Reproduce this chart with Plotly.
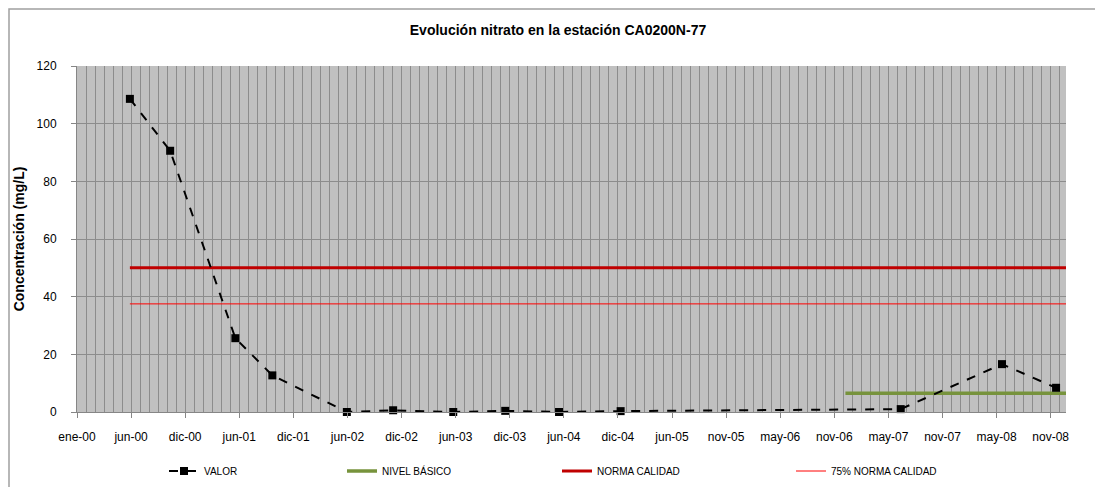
import pandas as pd
import plotly.graph_objects as go

# ---- data ----
fechas = ['2000-06-25', '2000-11-06', '2001-06-11', '2001-10-12', '2002-06-17',
          '2002-11-18', '2003-06-06', '2003-11-26', '2004-05-23', '2004-12-14',
          '2007-07-04', '2008-06-05', '2008-12-02']
valor = [108.6, 90.6, 25.6, 12.7, 0.0, 0.6, 0.0, 0.4, 0.0, 0.3, 1.0, 16.6, 8.4]

nivel_fechas = ['2007-01-01', '2009-01-04']
nivel_valor = [6.5, 6.5]

norma_fechas = ['2000-06-25', '2009-01-04']
norma_valor = [50, 50]

norma75_fechas = ['2000-06-25', '2009-01-04']
norma75_valor = [37.5, 37.5]

tick_labels = ['ene-00', 'jun-00', 'dic-00', 'jun-01', 'dic-01', 'jun-02', 'dic-02',
               'jun-03', 'dic-03', 'jun-04', 'dic-04', 'jun-05', 'nov-05', 'may-06',
               'nov-06', 'may-07', 'nov-07', 'may-08', 'nov-08']

axis_start = pd.Timestamp('2000-01-01')
tick_vals = [axis_start + pd.Timedelta(days=180 * i) for i in range(len(tick_labels))]

FONT = 'Liberation Sans, Arial, sans-serif'
OFF = 8                      # page body margin
W, H = 1103 - OFF, 487 - OFF
# plot-area edges in page pixels
PL, PR, PT, PB = 77, 1066, 66, 412
L, R, T, B = PL - OFF, PR - OFF, PT - OFF, PB - OFF

fig = go.Figure()
fig.add_trace(go.Scatter(x=nivel_fechas, y=nivel_valor, name='NIVEL BÁSICO', mode='lines',
                         line=dict(color='#77933C', width=3.5), legend='legend2'))
fig.add_trace(go.Scatter(x=norma_fechas, y=norma_valor, name='NORMA CALIDAD', mode='lines',
                         line=dict(color='#C00000', width=3), legend='legend3'))
fig.add_trace(go.Scatter(x=norma75_fechas, y=norma75_valor, name='75% NORMA CALIDAD', mode='lines',
                         line=dict(color='#FF0000', width=1), legend='legend4'))
fig.add_trace(go.Scatter(x=fechas, y=valor, name='VALOR', mode='lines+markers',
                         line=dict(color='black', width=2, dash='dash'),
                         marker=dict(symbol='square', size=8, color='black'),
                         cliponaxis=False, legend='legend'))

def leg(page_px):
    return dict(x=(page_px - OFF) / W, xref='container', xanchor='left',
                y=1 - (471 - OFF) / H, yref='container', yanchor='middle',
                orientation='h', bgcolor='rgba(0,0,0,0)',
                font=dict(family=FONT, size=10, color='#000'))

def px_x(p):   # figure px -> paper
    return (p - L) / (R - L)

def px_y(p):
    return (B - p) / (B - T)

fig.update_layout(
    width=W, height=H,
    margin=dict(l=L, r=W - R, t=T, b=H - B),
    paper_bgcolor='white', plot_bgcolor='#C0C0C0',
    font=dict(family=FONT, color='#000'),
    title=dict(text='<b>Evolución nitrato en la estación CA0200N-77</b>',
               x=(558 - OFF) / W, xref='container', xanchor='center',
               y=1 - (30 - OFF) / H, yref='container', yanchor='middle',
               font=dict(family=FONT, size=14, color='#000')),
    showlegend=True,
    legend=leg(164), legend2=leg(342), legend3=leg(557), legend4=leg(791),
    xaxis=dict(type='date', range=['2000-01-01', '2009-01-04'],
               tickmode='array', tickvals=tick_vals, ticktext=tick_labels,
               showgrid=True, gridcolor='#8C8C8C', gridwidth=1,
               ticks='outside', ticklen=5, tickcolor='#868686',
               showline=True, linecolor='#868686', linewidth=1,
               tickfont=dict(family=FONT, size=12, color='#000'),
               ticklabelstandoff=9,
               minor=dict(tickmode='linear', tick0='2000-01-01', dtick=30 * 86400000,
                          showgrid=True, gridcolor='#8C8C8C', gridwidth=1),
               zeroline=False, fixedrange=True),
    yaxis=dict(range=[0, 120], tickmode='linear', tick0=0, dtick=20,
               showgrid=True, gridcolor='#8C8C8C', gridwidth=1,
               ticks='outside', ticklen=5, tickcolor='#868686',
               showline=True, linecolor='#868686', linewidth=1,
               tickfont=dict(family=FONT, size=12, color='#000'),
               ticklabelstandoff=12,
               title=dict(text='<b>Concentración (mg/L)</b>', standoff=8,
                          font=dict(family=FONT, size=14, color='#000')),
               zeroline=False, fixedrange=True),
    shapes=[dict(type='rect', xref='paper', yref='paper',
                 x0=px_x(1), x1=px_x(W + 10), y0=px_y(H + 10), y1=px_y(1),
                 line=dict(color='#A0A0A0', width=1.5), fillcolor='rgba(0,0,0,0)',
                 layer='below')],
)

fig.write_html('out.html')
